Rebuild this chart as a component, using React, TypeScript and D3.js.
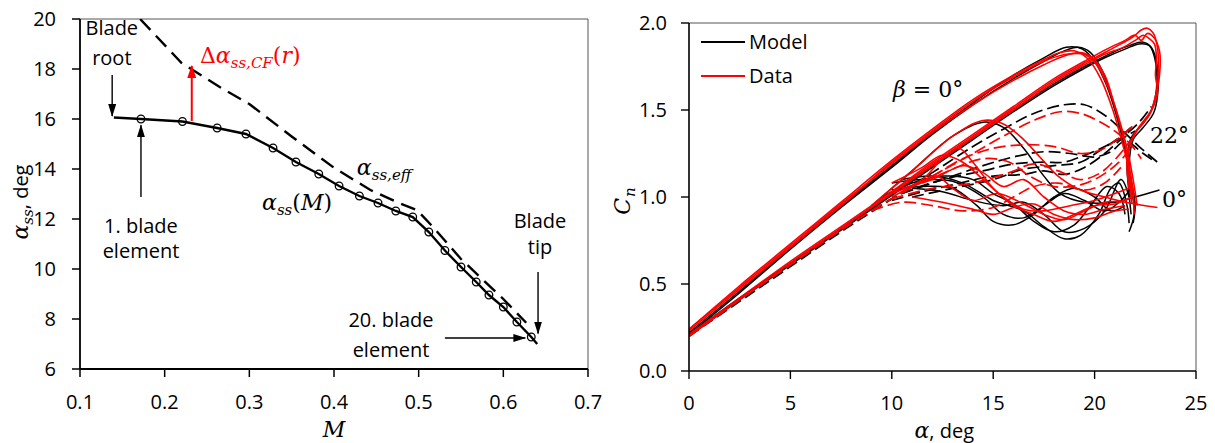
import React from 'react';
import * as d3 from 'd3';

type P = [number, number];

// ---------- Left panel data ----------
const mTicks = [0.1, 0.2, 0.3, 0.4, 0.5, 0.6, 0.7];
const alphaTicks = [6, 8, 10, 12, 14, 16, 18, 20];
const rootPoint: P = [0.14, 16.06];
const tipPoint: P = [0.64, 7.0];
const elementM = [0.172, 0.221, 0.262, 0.296, 0.328, 0.355, 0.382, 0.406, 0.43, 0.452, 0.473, 0.493, 0.512, 0.531, 0.55, 0.568, 0.583, 0.6, 0.616, 0.633];
const elementAlpha = [16.0, 15.9, 15.64, 15.4, 14.84, 14.28, 13.8, 13.32, 12.92, 12.64, 12.32, 12.08, 11.48, 10.74, 10.08, 9.48, 8.96, 8.48, 7.88, 7.28];
const effM = [0.171, 0.22, 0.265, 0.3, 0.35, 0.4, 0.443, 0.474, 0.498, 0.517, 0.55, 0.6, 0.627];
const effAlpha = [20, 18.24, 17.28, 16.6, 15.3, 14.05, 13.16, 12.68, 12.36, 11.68, 10.4, 8.8, 7.85];

// ---------- Right panel data ----------
const aoaTicks = [0, 5, 10, 15, 20, 25];
const cnTicks = [0, 0.5, 1.0, 1.5, 2.0];

// Model, beta = 0 deg (solid black)
const model0LoopA: P[] = [[0,0.21],[2.5,0.45],[5,0.7],[7.5,0.94],[10,1.17],[12,1.36],[14,1.53],[16,1.68],[17.5,1.78],[18.5,1.84],[19.2,1.86],[19.8,1.83],[20.4,1.72],[20.9,1.55],[21.3,1.38],[21.6,1.22],[21.85,1.05],[21.95,0.9],[21.7,0.8]];
const model0LoopB: P[] = [[0,0.22],[2.5,0.46],[5,0.71],[7.5,0.95],[10,1.18],[12,1.37],[14,1.54],[16,1.7],[17.5,1.8],[18.6,1.86],[19.4,1.85],[20,1.78],[20.6,1.64],[21.1,1.46],[21.5,1.28],[21.8,1.1],[22,0.95],[21.9,0.85]];
const model0HighA: P[] = [[0,0.2],[2.5,0.41],[5,0.61],[7.5,0.81],[10,1.01],[12,1.17],[14,1.33],[16,1.49],[18,1.64],[19.5,1.74],[20.5,1.8],[21.5,1.85],[22.2,1.88],[22.7,1.87],[23,1.78],[23.05,1.62],[22.8,1.5],[22.3,1.41],[21.8,1.34],[21.6,1.2],[21.7,1.02],[21.8,0.9]];
const model0HighB: P[] = [[0,0.21],[2.5,0.42],[5,0.62],[7.5,0.82],[10,1.02],[12,1.18],[14,1.34],[16,1.5],[18,1.65],[19.5,1.75],[20.7,1.82],[21.7,1.87],[22.4,1.89],[22.8,1.86],[23.1,1.75],[23.1,1.58],[22.9,1.48],[22.4,1.4],[21.9,1.33],[21.7,1.18],[21.8,1.0]];
const model0Hump: P[] = [[9,0.95],[11,1.15],[13,1.35],[14.5,1.43],[15.5,1.4],[16.5,1.28],[17.5,1.12],[18.3,1.02],[19.5,0.97],[21,0.97],[22,1.0],[23.2,1.04]];
const model0WaveA: P[] = [[10,1.08],[11.5,1.1],[13,1.09],[14.5,1.0],[15.5,0.9],[16.5,0.88],[17.5,0.95],[18.5,1.02],[19.5,0.98],[20.5,0.92],[21.3,0.98],[21.8,1.05]];
const model0WaveB: P[] = [[10,1.04],[11.5,1.06],[13,1.05],[14.2,0.95],[15,0.86],[16,0.84],[17,0.9],[18,1.0],[19,1.05],[20,1.0],[20.8,0.92],[21.5,0.95]];
const model0WaveC: P[] = [[10.5,1.1],[12,1.12],[13.5,1.08],[15,0.98],[16.5,0.92],[17.5,0.83],[18.5,0.76],[19.3,0.78],[20.2,0.9],[20.8,1.05],[21.2,1.08],[21.6,0.95],[21.7,0.85]];
const model0WaveD: P[] = [[11,1.05],[12.5,1.03],[14,0.98],[15.5,0.95],[16.5,0.97],[17.5,0.9],[18.5,0.8],[19.5,0.82],[20.5,0.92],[21.3,1.1],[21.7,1.0]];
const model0WaveE: P[] = [[9.5,1.0],[11,1.08],[12.5,1.12],[14,1.1],[15,1.02],[16,0.96],[17,0.86],[18,0.8],[19,0.84],[19.8,0.95],[20.6,1.06],[21.2,1.02],[21.5,0.9]];

// Model, beta = 22 deg (dashed black)
const model22Big: P[] = [[0,0.2],[2.5,0.4],[5,0.6],[7.5,0.8],[10,0.99],[12,1.14],[14,1.29],[15.5,1.39],[17,1.48],[18.5,1.53],[19.5,1.53],[20.5,1.47],[21.3,1.39],[22.2,1.29],[23.2,1.19]];
const model22A: P[] = [[9,0.92],[10.5,1.02],[12.5,1.1],[14.5,1.15],[16,1.19],[17.5,1.2],[18.5,1.2],[19.5,1.24],[20.5,1.29],[21.3,1.34],[22.2,1.43],[22.8,1.52]];
const model22B: P[] = [[10,0.98],[11.5,1.03],[13,1.07],[15,1.12],[16.5,1.13],[17.5,1.15],[18.5,1.13],[19.5,1.17],[20.5,1.25],[21.3,1.33],[22,1.38]];
const model22C: P[] = [[10.5,1.02],[12.5,1.1],[14.5,1.18],[16,1.23],[17.5,1.26],[18.8,1.25],[20,1.23],[20.8,1.26],[21.5,1.32],[22.4,1.25],[23,1.2]];
const model22D: P[] = [[11,1.0],[13,1.05],[15,1.1],[16.5,1.16],[18,1.18],[19.3,1.2],[20.3,1.27],[21.2,1.34],[21.8,1.4]];

// Data, beta = 0 deg (solid red)
const data0LoopA: P[] = [[0,0.24],[2.5,0.48],[5,0.72],[7.5,0.96],[10,1.19],[12,1.37],[14,1.53],[16,1.67],[17.5,1.76],[18.5,1.81],[19.3,1.83],[19.9,1.8],[20.5,1.7],[21,1.52],[21.4,1.35],[21.7,1.18],[21.9,1.02],[21.95,0.9]];
const data0LoopB: P[] = [[0,0.23],[2.5,0.47],[5,0.71],[7.5,0.95],[10,1.2],[12,1.38],[14,1.55],[16,1.69],[17.5,1.78],[18.6,1.82],[19.5,1.82],[20.1,1.76],[20.7,1.62],[21.2,1.45],[21.6,1.28],[21.9,1.1],[22.1,0.95]];
const data0LoopC: P[] = [[0,0.24],[2.5,0.49],[5,0.73],[7.5,0.97],[10,1.21],[12,1.39],[14,1.56],[16,1.7],[17.5,1.79],[18.3,1.83],[19,1.84],[19.7,1.79],[20.3,1.68],[20.9,1.5],[21.3,1.34],[21.7,1.15],[21.85,0.98]];
const data0HighA: P[] = [[0,0.21],[2.5,0.42],[5,0.63],[7.5,0.83],[10,1.03],[12,1.19],[14,1.35],[16,1.51],[18,1.67],[19.5,1.77],[20.5,1.83],[21.3,1.88],[21.9,1.92],[22.3,1.96],[22.6,1.97],[22.9,1.94],[23.1,1.86],[23.15,1.74],[23.1,1.62],[22.9,1.52],[22.5,1.44],[22,1.37],[21.7,1.28],[21.7,1.12],[21.85,0.96]];
const data0HighB: P[] = [[0,0.2],[2.5,0.41],[5,0.62],[7.5,0.82],[10,1.02],[12,1.18],[14,1.34],[16,1.5],[18,1.66],[19.5,1.76],[20.5,1.82],[21.4,1.86],[22,1.9],[22.4,1.93],[22.7,1.91],[22.95,1.88],[23.05,1.8],[23.0,1.7],[23.1,1.6],[22.8,1.5],[22.3,1.42],[21.9,1.35],[21.6,1.22],[21.7,1.05]];
const data0HighC: P[] = [[10,1.03],[12,1.2],[14,1.36],[16,1.52],[18,1.68],[19.5,1.78],[20.6,1.85],[21.5,1.9],[22,1.93],[22.3,1.9],[22.6,1.94],[22.9,1.92],[23.2,1.84],[23.2,1.7],[23.0,1.58],[22.7,1.47],[22.2,1.4],[21.8,1.32]];
const data0Hump: P[] = [[9,0.95],[11,1.15],[13,1.35],[14.5,1.44],[15.5,1.42],[16.5,1.33],[17.3,1.23],[18.2,1.12],[19.3,1.04],[20.5,1.0],[21.5,0.97],[23.1,0.94]];
const data0WaveA: P[] = [[10,1.02],[11.5,1.1],[12.5,1.22],[13.3,1.28],[14,1.2],[15,1.05],[16,0.95],[17,0.9],[18,0.86],[19,0.9],[20,0.95],[21,0.96],[21.8,1.0]];
const data0WaveB: P[] = [[10,1.0],[11.2,1.07],[12.2,1.12],[13,1.05],[14,0.98],[15.2,1.02],[16.5,0.96],[17.5,0.9],[18.5,0.87],[19.5,0.92],[20.5,0.97],[21.5,0.98],[22,1.02]];
const data0WaveC: P[] = [[10.5,1.05],[12,1.1],[13.5,1.18],[14.5,1.14],[15.5,1.06],[16.5,1.1],[17.5,1.0],[18.5,0.92],[19.5,0.9],[20.5,0.93],[21.5,0.95]];
const data0WaveD: P[] = [[11,1.0],[12.5,0.97],[14,0.93],[15,0.9],[16,0.94],[17,0.96],[18,0.9],[19,0.87],[20,0.88],[21,0.92],[21.7,0.93]];
const data0WaveE: P[] = [[10,1.08],[11.5,1.17],[12.5,1.24],[13.5,1.2],[14.5,1.1],[15.5,1.0],[16.5,0.93],[17.5,0.92],[18.8,0.95],[20,0.98],[21,1.02],[21.7,1.05]];

// Data, beta = 22 deg (dashed red)
const data22Big: P[] = [[0,0.2],[2.5,0.41],[5,0.61],[7.5,0.81],[10,0.99],[12,1.12],[14,1.25],[15.5,1.35],[17,1.44],[18.3,1.49],[19.3,1.48],[20.3,1.43],[21.1,1.37],[21.8,1.3],[22.3,1.22]];
const data22A: P[] = [[10.5,1.03],[12,1.12],[13.5,1.22],[15,1.28],[16.5,1.3],[18,1.29],[19.3,1.25],[20.3,1.27],[21.2,1.34],[22,1.42]];
const data22B: P[] = [[10,0.99],[12,1.05],[14,1.08],[15.8,1.14],[17,1.19],[18.2,1.15],[19.3,1.1],[20.3,1.14],[21.2,1.24],[21.8,1.33]];
const data22C: P[] = [[11.5,1.08],[13,1.16],[14.5,1.22],[15.8,1.2],[16.8,1.12],[18,1.06],[19.3,1.07],[20.3,1.12],[21.2,1.2],[21.9,1.3]];
const data22D: P[] = [[9,0.92],[10.5,0.97],[12,0.95],[13.5,0.92],[15,0.94],[16,1.0],[17,1.06],[18.2,1.08],[19.5,1.04],[20.5,1.08],[21.3,1.17]];

const modelSolid = [model0LoopA, model0LoopB, model0HighA, model0HighB, model0Hump, model0WaveA, model0WaveB, model0WaveC, model0WaveD, model0WaveE];
const modelDashed = [model22Big, model22A, model22B, model22C, model22D];
const dataSolid = [data0LoopA, data0LoopB, data0LoopC, data0HighA, data0HighB, data0HighC, data0Hump, data0WaveA, data0WaveB, data0WaveC, data0WaveD, data0WaveE];
const dataDashed = [data22Big, data22A, data22B, data22C, data22D];

const legendLabels = ['Model', 'Data'];
const legendColors = ['#000', '#ff0000'];

// ---------- Scales ----------
const xL = d3.scaleLinear().domain([0.1, 0.7]).range([80, 588]);
const yL = d3.scaleLinear().domain([6, 20]).range([369, 19]);
const xR = d3.scaleLinear().domain([0, 25]).range([689, 1196]);
const yR = d3.scaleLinear().domain([0, 2]).range([371, 23]);

const SANS = "'Open Sans', 'DejaVu Sans', sans-serif";
const MATH = "'DejaVu Serif', serif";
const RED = '#ff0000';

export default function App() {
  const ssPts: P[] = [rootPoint, ...elementM.map((m, i) => [m, elementAlpha[i]] as P), tipPoint];
  const effPts: P[] = effM.map((m, i) => [m, effAlpha[i]] as P);
  const lineL = d3.line<P>().x(d => xL(d[0])).y(d => yL(d[1]));
  const lineR = d3.line<P>().x(d => xR(d[0])).y(d => yR(d[1])).curve(d3.curveCatmullRom.alpha(0.5));

  const [l0, l1] = xL.range();
  const [lb, lt] = yL.range();
  const [r0, r1] = xR.range();
  const [rb, rt] = yR.range();

  const arrow = (x1: number, y1: number, x2: number, y2: number, color: string, w: number, id: string) => (
    <line x1={x1} y1={y1} x2={x2} y2={y2} stroke={color} strokeWidth={w} markerEnd={`url(#${id})`} />
  );

  return (
    <svg width={1215} height={443} style={{ position: 'absolute', left: 0, top: 0, background: '#fff' }}>
      <defs>
        <marker id="ahK" markerUnits="userSpaceOnUse" markerWidth={13} markerHeight={8} refX={12} refY={4} orient="auto">
          <path d="M0,0 L13,4 L0,8 z" fill="#000" />
        </marker>
        <marker id="ahR" markerUnits="userSpaceOnUse" markerWidth={13} markerHeight={9} refX={12} refY={4.5} orient="auto">
          <path d="M0,0 L13,4.5 L0,9 z" fill={RED} />
        </marker>
        <clipPath id="clipL"><rect x={l0} y={lt} width={l1 - l0} height={lb - lt} /></clipPath>
        <clipPath id="clipR"><rect x={r0} y={rt} width={r1 - r0} height={rb - rt} /></clipPath>
      </defs>

      {/* ================= LEFT PANEL ================= */}
      <g>
        <line x1={l0} y1={lt} x2={l1} y2={lt} stroke="#555" strokeWidth={1} />
        <line x1={l1} y1={lt} x2={l1} y2={lb} stroke="#555" strokeWidth={1} />
        <line x1={l0} y1={lb} x2={l1} y2={lb} stroke="#000" strokeWidth={1.8} />
        <line x1={l0} y1={lt} x2={l0} y2={lb} stroke="#000" strokeWidth={1.8} />
        {mTicks.map(t => (
          <g key={'mx' + t}>
            <line x1={xL(t)} x2={xL(t)} y1={lb} y2={lb + 8} stroke="#000" strokeWidth={1.5} />
            <text x={xL(t)} y={409} textAnchor="middle" fontFamily={SANS} fontSize={20} fill="#000">{d3.format('.1f')(t)}</text>
          </g>
        ))}
        {alphaTicks.map(t => (
          <g key={'ay' + t}>
            <line x1={l0 - 8} x2={l0} y1={yL(t)} y2={yL(t)} stroke="#000" strokeWidth={1.5} />
            <text x={56} y={yL(t) + 7} textAnchor="end" fontFamily={SANS} fontSize={20} fill="#000">{t}</text>
          </g>
        ))}
        <g clipPath="url(#clipL)">
          <path d={lineL(effPts) || ''} fill="none" stroke="#000" strokeWidth={2.4} strokeDasharray="15,8" />
          <path d={lineL(ssPts) || ''} fill="none" stroke="#000" strokeWidth={2.4} />
          {elementM.map((m, i) => (
            <circle key={'c' + i} cx={xL(m)} cy={yL(elementAlpha[i])} r={3.8} fill="none" stroke="#000" strokeWidth={1.3} />
          ))}
        </g>
        {/* annotations */}
        <text x={xL(0.1376)} y={yL(19.36)} textAnchor="middle" fontFamily={SANS} fontSize={20}>Blade</text>
        <text x={xL(0.1376)} y={yL(18.16)} textAnchor="middle" fontFamily={SANS} fontSize={20}>root</text>
        {arrow(xL(0.138), yL(17.76), xL(0.138), yL(16.12), '#000', 1.4, 'ahK')}
        {arrow(xL(0.172), yL(12.88), xL(0.172), yL(15.75), '#000', 1.4, 'ahK')}
        <text x={xL(0.172)} y={yL(11.44)} textAnchor="middle" fontFamily={SANS} fontSize={20}>1. blade</text>
        <text x={xL(0.172)} y={yL(10.44)} textAnchor="middle" fontFamily={SANS} fontSize={20}>element</text>
        {arrow(xL(0.232), yL(15.92), xL(0.232), yL(18.12), RED, 2, 'ahR')}
        <text x={xL(0.2417)} y={yL(18.24)} fontFamily={MATH} fontSize={22} fill={RED}>
          <tspan fontStyle="normal">Δ</tspan><tspan fontStyle="italic">α</tspan>
          <tspan fontStyle="italic" fontSize={15} dy={5}>ss,CF</tspan>
          <tspan dy={-5}>(</tspan><tspan fontStyle="italic">r</tspan><tspan>)</tspan>
        </text>
        <text x={xL(0.315)} y={yL(12.36)} fontFamily={MATH} fontSize={22} fill="#000">
          <tspan fontStyle="italic">α</tspan>
          <tspan fontStyle="italic" fontSize={15} dy={5}>ss</tspan>
          <tspan dy={-5}>(</tspan><tspan fontStyle="italic">M</tspan><tspan>)</tspan>
        </text>
        <text x={xL(0.427)} y={yL(13.76)} fontFamily={MATH} fontSize={22} fill="#000">
          <tspan fontStyle="italic">α</tspan>
          <tspan fontStyle="italic" fontSize={15} dy={5}>ss,eff</tspan>
        </text>
        <text x={xL(0.6433)} y={yL(11.64)} textAnchor="middle" fontFamily={SANS} fontSize={20}>Blade</text>
        <text x={xL(0.6433)} y={yL(10.6)} textAnchor="middle" fontFamily={SANS} fontSize={20}>tip</text>
        {arrow(xL(0.641), yL(9.88), xL(0.641), yL(7.42), '#000', 1.4, 'ahK')}
        <text x={xL(0.4673)} y={yL(7.68)} textAnchor="middle" fontFamily={SANS} fontSize={20}>20. blade</text>
        <text x={xL(0.4673)} y={yL(6.48)} textAnchor="middle" fontFamily={SANS} fontSize={20}>element</text>
        {arrow(xL(0.531), yL(7.24), xL(0.626), yL(7.24), '#000', 1.4, 'ahK')}
        {/* axis titles */}
        <text x={(l0 + l1) / 2} y={437} textAnchor="middle" fontFamily={MATH} fontStyle="italic" fontSize={22}>M</text>
        <text transform={`translate(28,${(lt + lb) / 2 + 8}) rotate(-90)`} textAnchor="middle" fontSize={22}>
          <tspan fontFamily={MATH} fontStyle="italic">α</tspan>
          <tspan fontFamily={MATH} fontStyle="italic" fontSize={15} dy={5}>ss</tspan>
          <tspan fontFamily={SANS} fontSize={20} dy={-5}>, deg</tspan>
        </text>
      </g>

      {/* ================= RIGHT PANEL ================= */}
      <g>
        <line x1={r0} y1={rt} x2={r1} y2={rt} stroke="#555" strokeWidth={1} />
        <line x1={r1} y1={rt} x2={r1} y2={rb} stroke="#555" strokeWidth={1} />
        <g clipPath="url(#clipR)">
          {modelDashed.map((c, i) => (
            <path key={'md' + i} d={lineR(c) || ''} fill="none" stroke="#000" strokeWidth={1.7} strokeDasharray="12,5" />
          ))}
          {modelSolid.map((c, i) => (
            <path key={'ms' + i} d={lineR(c) || ''} fill="none" stroke="#000" strokeWidth={1.5} />
          ))}
          {dataDashed.map((c, i) => (
            <path key={'dd' + i} d={lineR(c) || ''} fill="none" stroke={RED} strokeWidth={1.7} strokeDasharray="12,5" />
          ))}
          {dataSolid.map((c, i) => (
            <path key={'ds' + i} d={lineR(c) || ''} fill="none" stroke={RED} strokeWidth={1.6} />
          ))}
        </g>
        <line x1={r0} y1={rb} x2={r1} y2={rb} stroke="#000" strokeWidth={1.6} />
        <line x1={r0} y1={rt} x2={r0} y2={rb} stroke="#000" strokeWidth={1.6} />
        {aoaTicks.map(t => (
          <g key={'ax' + t}>
            <line x1={xR(t)} x2={xR(t)} y1={rb} y2={rb + 8} stroke="#000" strokeWidth={1.4} />
            <text x={xR(t)} y={410} textAnchor="middle" fontFamily={SANS} fontSize={20}>{t}</text>
          </g>
        ))}
        {cnTicks.map(t => (
          <g key={'cy' + t}>
            <line x1={r0 - 8} x2={r0} y1={yR(t)} y2={yR(t)} stroke="#000" strokeWidth={1.4} />
            <text x={667} y={yR(t) + 7} textAnchor="end" fontFamily={SANS} fontSize={20}>{d3.format('.1f')(t)}</text>
          </g>
        ))}
        {/* legend */}
        {legendLabels.map((lab, i) => (
          <g key={lab}>
            <line x1={701} x2={745} y1={42 + i * 34} y2={42 + i * 34} stroke={legendColors[i]} strokeWidth={1.8} />
            <text x={749} y={49 + i * 34} fontFamily={SANS} fontSize={20}>{lab}</text>
          </g>
        ))}
        {/* labels */}
        <text x={xR(10.06)} y={yR(1.575)} fontFamily={MATH} fontSize={22}>
          <tspan fontStyle="italic">β</tspan><tspan> = 0°</tspan>
        </text>
        <text x={xR(22.73)} y={yR(1.31)} fontFamily={MATH} fontSize={22}>22°</text>
        <text x={xR(23.32)} y={yR(0.943)} fontFamily={MATH} fontSize={22}>0°</text>
        {/* axis titles */}
        <text x={(r0 + r1) / 2 - 28} y={438} fontSize={22}>
          <tspan fontFamily={MATH} fontStyle="italic">α</tspan>
          <tspan fontFamily={SANS} fontSize={20}>, deg</tspan>
        </text>
        <text transform={`translate(630,${(rt + rb) / 2 + 4}) rotate(-90)`} textAnchor="middle" fontFamily={MATH} fontSize={22}>
          <tspan fontStyle="italic">C</tspan>
          <tspan fontStyle="italic" fontSize={15} dx={1} dy={5}>n</tspan>
        </text>
      </g>
    </svg>
  );
}
